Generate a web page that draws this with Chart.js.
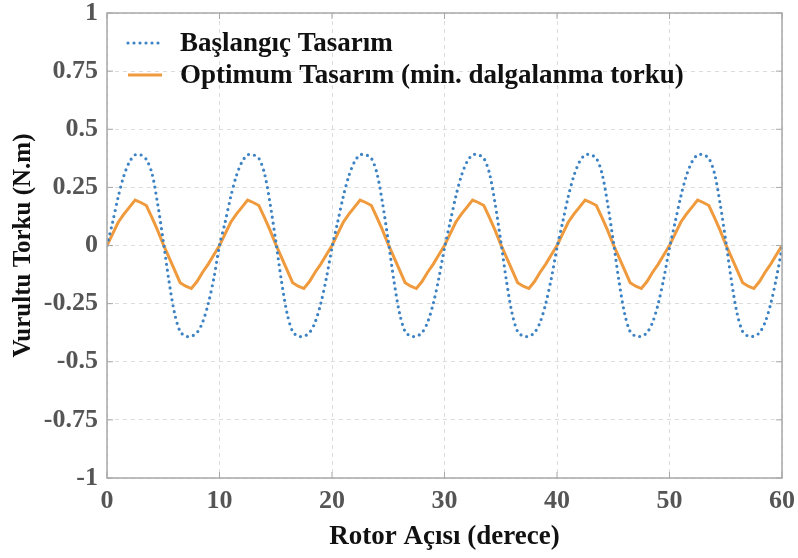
<!DOCTYPE html>
<html><head><meta charset="utf-8">
<script src="https://cdn.jsdelivr.net/npm/chart.js@4/dist/chart.umd.min.js"></script>
<style>html,body{margin:0;padding:0;background:#fff}</style>
</head><body>
<canvas id="c" width="798" height="558" style="display:block;width:798px;height:558px"></canvas>
<script>
// Rotor angle (degrees)
const angles = [
 0,0.5,1,1.5,2,2.5,3,3.5,4,4.5,5,5.5,6,6.5,7,7.5,8,8.5,9,9.5,
 10,10.5,11,11.5,12,12.5,13,13.5,14,14.5,15,15.5,16,16.5,17,17.5,18,18.5,19,19.5,
 20,20.5,21,21.5,22,22.5,23,23.5,24,24.5,25,25.5,26,26.5,27,27.5,28,28.5,29,29.5,
 30,30.5,31,31.5,32,32.5,33,33.5,34,34.5,35,35.5,36,36.5,37,37.5,38,38.5,39,39.5,
 40,40.5,41,41.5,42,42.5,43,43.5,44,44.5,45,45.5,46,46.5,47,47.5,48,48.5,49,49.5,
 50,50.5,51,51.5,52,52.5,53,53.5,54,54.5,55,55.5,56,56.5,57,57.5,58,58.5,59,59.5,
 60];
// Başlangıç Tasarım (N.m)
const baslangic = [
 0.00,0.10,0.21,0.30,0.36,0.39,0.39,0.37,0.31,0.18,0.02,-0.15,-0.29,-0.37,-0.39,-0.39,-0.375,-0.33,-0.25,-0.14,
 0.00,0.10,0.21,0.30,0.36,0.39,0.39,0.375,0.31,0.18,0.02,-0.15,-0.29,-0.37,-0.39,-0.39,-0.375,-0.33,-0.25,-0.14,
 -0.01,0.10,0.21,0.30,0.36,0.39,0.39,0.375,0.31,0.18,0.02,-0.15,-0.29,-0.37,-0.39,-0.39,-0.375,-0.33,-0.25,-0.14,
 -0.01,0.10,0.21,0.30,0.36,0.39,0.39,0.375,0.31,0.18,0.02,-0.15,-0.29,-0.37,-0.39,-0.39,-0.375,-0.33,-0.25,-0.14,
 -0.01,0.10,0.21,0.30,0.36,0.39,0.39,0.375,0.31,0.18,0.02,-0.15,-0.29,-0.37,-0.39,-0.39,-0.375,-0.33,-0.25,-0.14,
 -0.01,0.10,0.21,0.30,0.36,0.39,0.39,0.375,0.31,0.18,0.02,-0.15,-0.29,-0.37,-0.39,-0.39,-0.375,-0.33,-0.25,-0.14,
 -0.01];
// Optimum Tasarım (N.m)
const optimum = [
 0.00,0.05,0.10,0.135,0.165,0.195,0.185,0.172,0.12,0.065,0.005,-0.05,-0.105,-0.16,-0.175,-0.185,-0.155,-0.115,-0.08,-0.04,
 0.00,0.05,0.10,0.135,0.165,0.195,0.185,0.172,0.12,0.065,0.005,-0.05,-0.105,-0.16,-0.175,-0.185,-0.155,-0.115,-0.08,-0.04,
 0.00,0.05,0.10,0.135,0.165,0.195,0.185,0.172,0.12,0.065,0.005,-0.05,-0.105,-0.16,-0.175,-0.185,-0.155,-0.115,-0.08,-0.04,
 0.00,0.05,0.10,0.135,0.165,0.195,0.185,0.172,0.12,0.065,0.005,-0.05,-0.105,-0.16,-0.175,-0.185,-0.155,-0.115,-0.08,-0.04,
 0.00,0.05,0.10,0.135,0.165,0.195,0.185,0.172,0.12,0.065,0.005,-0.05,-0.105,-0.16,-0.175,-0.185,-0.155,-0.115,-0.08,-0.04,
 0.00,0.05,0.10,0.135,0.165,0.195,0.185,0.172,0.12,0.065,0.005,-0.05,-0.105,-0.16,-0.175,-0.185,-0.155,-0.115,-0.08,-0.04,
 0.00];
const xTicks = [0,10,20,30,40,50,60];
const yTicks = [-1,-0.75,-0.5,-0.25,0,0.25,0.5,0.75,1];
const seriesNames = ['Başlangıç Tasarım','Optimum Tasarım (min. dalgalanma torku)'];
const xTitle = 'Rotor Açısı (derece)';
const yTitle = 'Vurultu Torku (N.m)';

const SERIF = "'Liberation Serif','Times New Roman',serif";
const BLUE = '#3d83c4', ORANGE = '#f09a3e';

const toXY = (vals) => angles.map((a,i)=>({x:a,y:vals[i]}));

const framePlugin = {
  id:'frame',
  afterDraw(chart){
    const {ctx, chartArea:a, scales} = chart;
    ctx.save();
    ctx.strokeStyle = '#a8a8a8'; ctx.lineWidth = 1.5; ctx.setLineDash([]);
    ctx.strokeRect(a.left, a.top, a.right-a.left, a.bottom-a.top);
    ctx.lineWidth = 1;
    xTicks.forEach(v=>{
      const px = scales.x.getPixelForValue(v);
      ctx.beginPath(); ctx.moveTo(px,a.bottom); ctx.lineTo(px,a.bottom-6); ctx.moveTo(px,a.top); ctx.lineTo(px,a.top+6); ctx.stroke();
    });
    yTicks.forEach(v=>{
      const py = scales.y.getPixelForValue(v);
      ctx.beginPath(); ctx.moveTo(a.left,py); ctx.lineTo(a.left+6,py); ctx.moveTo(a.right,py); ctx.lineTo(a.right-6,py); ctx.stroke();
    });
    const ds = chart.data.datasets;
    const rows = [43, 75];
    ctx.font = 'bold 27px ' + SERIF;
    ctx.textBaseline = 'middle'; ctx.textAlign = 'left';
    ds.forEach((d,i)=>{
      const y = rows[i];
      ctx.beginPath();
      ctx.strokeStyle = d.borderColor; ctx.lineWidth = d.borderWidth;
      ctx.lineCap = d.borderCapStyle || 'butt';
      ctx.setLineDash(d.borderDash || []);
      ctx.moveTo(128,y); ctx.lineTo(162,y); ctx.stroke();
      ctx.setLineDash([]);
      ctx.fillStyle = '#111';
      ctx.fillText(d.label, 180, y+1);
    });
    ctx.restore();
  }
};

new Chart(document.getElementById('c'), {
  type:'line',
  data:{
    datasets:[
      {label:seriesNames[0], data:toXY(baslangic), borderColor:BLUE, borderWidth:3.2,
       borderDash:[0,6], borderCapStyle:'round', pointRadius:0, tension:0.3, fill:false},
      {label:seriesNames[1], data:toXY(optimum), borderColor:ORANGE, borderWidth:3,
       pointRadius:0, tension:0, fill:false}
    ]
  },
  options:{
    responsive:false, animation:false,
    layout:{padding:{top:13,right:16,left:0,bottom:0}},
    plugins:{legend:{display:false}, tooltip:{enabled:false}},
    scales:{
      x:{type:'linear', min:0, max:60,
        afterBuildTicks(s){ s.ticks = xTicks.map(v=>({value:v})); },
        afterFit(s){ s.height = 80; s.paddingLeft = 0; s.paddingRight = 0; },
        grid:{color:'#dcdcdc', lineWidth:1, drawTicks:false},
        border:{display:false, dash:[4,4]},
        ticks:{padding:10, color:'#555', font:{family:SERIF, size:26, weight:'bold', lineHeight:1}, maxRotation:0, autoSkip:false},
        title:{display:true, text:xTitle, color:'#111', font:{family:SERIF, size:27, weight:'bold', lineHeight:1.2}, padding:{top:0,bottom:5}}
      },
      y:{type:'linear', min:-1, max:1,
        afterBuildTicks(s){ s.ticks = yTicks.map(v=>({value:v})); },
        afterFit(s){ s.width = 107; s.paddingTop = 0; s.paddingBottom = 0; },
        grid:{color:'#dcdcdc', lineWidth:1, drawTicks:false},
        border:{display:false, dash:[4,4]},
        ticks:{padding:9, color:'#555', font:{family:SERIF, size:26, weight:'bold', lineHeight:1}, autoSkip:false,
          callback:(v)=>String(v)},
        title:{display:true, text:yTitle, color:'#111', font:{family:SERIF, size:25, weight:'bold', lineHeight:1.2}, padding:{top:9,bottom:0}}
      }
    }
  },
  plugins:[framePlugin]
});
</script>
</body></html>
